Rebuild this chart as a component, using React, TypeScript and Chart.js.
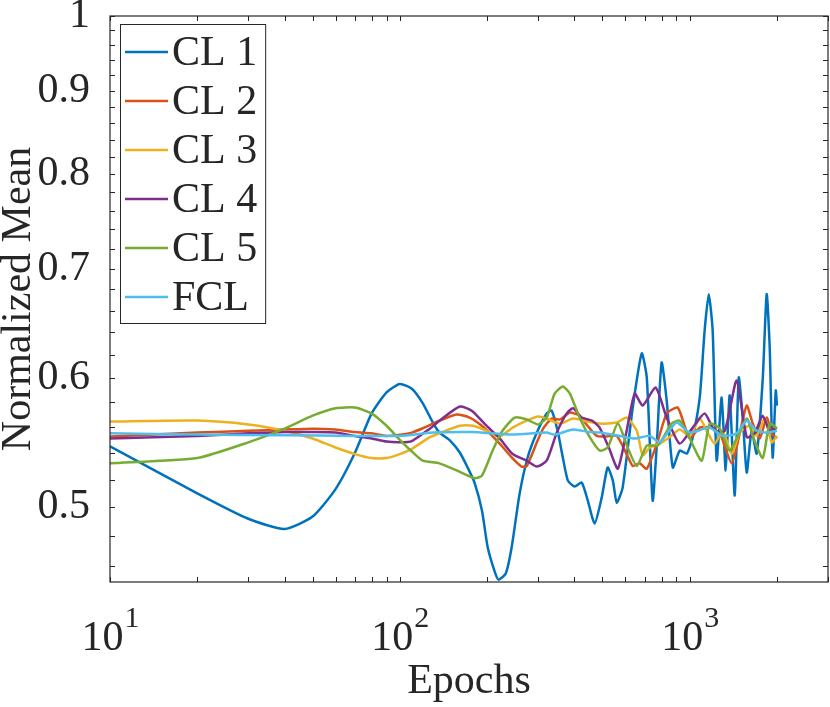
import React, { useEffect, useRef } from 'react';
import { Chart, registerables } from 'chart.js';
Chart.register(...registerables);

// epochs / normalized means
const cl1Epochs = [10, 20, 30, 40, 50, 60, 70, 80, 90, 100, 110, 120, 130, 137, 149, 161, 172, 181, 192, 201, 213, 219, 232, 243, 259, 276, 297, 321, 334, 350, 365, 380, 401, 424, 445, 470, 497, 521, 543, 560, 587, 636, 683, 711, 745, 769, 800, 833, 874, 924, 977, 1024, 1083, 1126, 1163, 1200, 1239, 1289, 1331, 1374, 1430, 1476, 1524, 1573, 1636, 1702, 1785, 1843, 1888, 1933, 1981, 2000];
const cl1Values = [0.545, 0.51, 0.492, 0.485, 0.4935, 0.513, 0.54, 0.571, 0.588, 0.595, 0.591, 0.579, 0.5635, 0.5556, 0.5494, 0.5402, 0.5281, 0.5178, 0.4977, 0.4724, 0.456, 0.4515, 0.4554, 0.4724, 0.5098, 0.5364, 0.5556, 0.5707, 0.5731, 0.5572, 0.5364, 0.5192, 0.5149, 0.5178, 0.5048, 0.4887, 0.5069, 0.5289, 0.5192, 0.5033, 0.5141, 0.5756, 0.6212, 0.6004, 0.5048, 0.544, 0.6133, 0.5813, 0.5289, 0.5417, 0.5394, 0.5517, 0.5838, 0.6418, 0.6754, 0.6418, 0.5341, 0.5838, 0.5267, 0.5855, 0.5084, 0.6004, 0.5675, 0.5251, 0.5572, 0.5394, 0.5979, 0.6754, 0.6264, 0.5364, 0.5896, 0.5772];

const cl2Epochs = [10, 20, 30, 40, 50, 60, 70, 80, 90, 100, 110, 120, 137, 157, 174, 194, 221, 245, 263, 274, 297, 312, 334, 357, 386, 417, 444, 478, 516, 560, 606, 636, 672, 711, 776, 833, 908, 948, 1000, 1083, 1172, 1270, 1396, 1488, 1573, 1650, 1744, 1843, 1918, 2000];
const cl2Values = [0.5525, 0.5556, 0.557, 0.558, 0.5587, 0.558, 0.556, 0.555, 0.553, 0.554, 0.5556, 0.559, 0.565, 0.5699, 0.5675, 0.56, 0.547, 0.5357, 0.5296, 0.53, 0.548, 0.5587, 0.5667, 0.566, 0.5715, 0.569, 0.561, 0.553, 0.5525, 0.553, 0.539, 0.53, 0.532, 0.528, 0.549, 0.5707, 0.5756, 0.565, 0.551, 0.5595, 0.5595, 0.555, 0.532, 0.555, 0.5772, 0.5627, 0.551, 0.5675, 0.555, 0.551];

const cl3Epochs = [10, 20, 30, 40, 50, 60, 70, 80, 90, 100, 110, 127, 140, 161, 179, 199, 221, 245, 274, 300, 321, 357, 396, 444, 489, 560, 606, 657, 688, 729, 788, 852, 924, 1000, 1083, 1144, 1220, 1300, 1396, 1488, 1610, 1702, 1815, 1918, 2000];
const cl3Values = [0.5643, 0.5651, 0.562, 0.557, 0.551, 0.544, 0.539, 0.536, 0.536, 0.539, 0.543, 0.552, 0.556, 0.561, 0.561, 0.557, 0.5525, 0.5595, 0.565, 0.5683, 0.5667, 0.5627, 0.5667, 0.5643, 0.5627, 0.5635, 0.5675, 0.557, 0.538, 0.544, 0.547, 0.552, 0.558, 0.553, 0.5667, 0.557, 0.547, 0.557, 0.539, 0.5556, 0.561, 0.553, 0.5667, 0.548, 0.553];

const cl4Epochs = [10, 20, 30, 40, 50, 60, 70, 80, 90, 100, 110, 127, 137, 161, 177, 199, 221, 245, 274, 297, 321, 348, 376, 396, 424, 460, 489, 528, 565, 606, 646, 688, 763, 833, 924, 1024, 1126, 1220, 1321, 1452, 1573, 1676, 1785, 1888, 2000];
const cl4Values = [0.551, 0.553, 0.555, 0.556, 0.556, 0.5556, 0.553, 0.551, 0.5486, 0.548, 0.549, 0.5587, 0.565, 0.5764, 0.573, 0.561, 0.551, 0.539, 0.534, 0.5296, 0.534, 0.5556, 0.5707, 0.575, 0.5675, 0.565, 0.5595, 0.543, 0.528, 0.557, 0.587, 0.5772, 0.592, 0.5675, 0.547, 0.5595, 0.5707, 0.557, 0.557, 0.598, 0.552, 0.555, 0.569, 0.557, 0.5595];

const cl5Epochs = [10, 20, 30, 40, 50, 60, 70, 80, 90, 100, 110, 120, 137, 157, 181, 192, 209, 226, 249, 274, 300, 321, 342, 365, 386, 417, 452, 489, 521, 565, 611, 657, 711, 776, 866, 924, 1000, 1100, 1172, 1270, 1374, 1573, 1650, 1785, 1888, 2000];
const cl5Values = [0.532, 0.536, 0.548, 0.5587, 0.569, 0.575, 0.5756, 0.5707, 0.561, 0.55, 0.541, 0.534, 0.532, 0.5267, 0.521, 0.5229, 0.5417, 0.557, 0.5675, 0.566, 0.562, 0.5675, 0.587, 0.593, 0.587, 0.5675, 0.552, 0.5417, 0.544, 0.5627, 0.544, 0.53, 0.5455, 0.5455, 0.5627, 0.565, 0.551, 0.534, 0.5627, 0.5587, 0.5417, 0.5667, 0.553, 0.536, 0.5627, 0.5587];

const fclEpochs = [10, 20, 40, 70, 100, 130, 177, 245, 321, 342, 396, 452, 489, 575, 646, 729, 788, 900, 1000, 1172, 1300, 1452, 1573, 1702, 1843, 2000];
const fclValues = [0.555, 0.554, 0.5535, 0.553, 0.553, 0.5556, 0.556, 0.554, 0.5556, 0.554, 0.558, 0.556, 0.5556, 0.553, 0.551, 0.553, 0.548, 0.5635, 0.5556, 0.5595, 0.553, 0.555, 0.565, 0.557, 0.5556, 0.557];

const seriesLabels = ['CL 1', 'CL 2', 'CL 3', 'CL 4', 'CL 5', 'FCL'];
const seriesColors = ['#0072BD', '#D95319', '#EDB120', '#7E2F8E', '#77AC30', '#4DBEEE'];
const seriesEpochs = [cl1Epochs, cl2Epochs, cl3Epochs, cl4Epochs, cl5Epochs, fclEpochs];
const seriesValues = [cl1Values, cl2Values, cl3Values, cl4Values, cl5Values, fclValues];

const xMajorTicks = [10, 100, 1000];
const xTickValues = [10, 20, 30, 40, 50, 60, 70, 80, 90, 100, 200, 300, 400, 500, 600, 700, 800, 900, 1000, 2000, 3000];
const yTickValues = [0.46, 0.48, 0.5, 0.52, 0.54, 0.56, 0.58, 0.6, 0.62, 0.64, 0.66, 0.68, 0.7, 0.72, 0.74, 0.76, 0.78, 0.8, 0.82, 0.84, 0.86, 0.88, 0.9, 0.92, 0.94, 0.96, 0.98, 1];
const yTickLabels = ['0.5', '0.6', '0.7', '0.8', '0.9', '1'];

const FONT = '"Liberation Serif", "Times New Roman", Times, serif';
const INK = '#262626';
const TICK_LEN = 5;

const matlabAxes = {
  id: 'matlabAxes',
  afterDatasetsDraw(chart: any) {
    const { ctx, chartArea: a, scales } = chart;
    const xs = scales.x;
    const ys = scales.y;
    ctx.save();
    ctx.strokeStyle = INK;
    ctx.lineWidth = 1;
    ctx.beginPath();
    xTickValues.forEach((v) => {
      const px = Math.round(xs.getPixelForValue(v)) + 0.5;
      ctx.moveTo(px, a.bottom);
      ctx.lineTo(px, a.bottom - TICK_LEN);
      ctx.moveTo(px, a.top);
      ctx.lineTo(px, a.top + TICK_LEN);
    });
    yTickValues.forEach((v) => {
      const py = Math.round(ys.getPixelForValue(v)) + 0.5;
      ctx.moveTo(a.left, py);
      ctx.lineTo(a.left + TICK_LEN, py);
      ctx.moveTo(a.right, py);
      ctx.lineTo(a.right - TICK_LEN, py);
    });
    ctx.stroke();
    ctx.lineWidth = 1.2;
    ctx.strokeRect(a.left, a.top, a.right - a.left, a.bottom - a.top);

    // x tick labels as 10^k
    ctx.fillStyle = INK;
    ctx.textAlign = 'left';
    ctx.textBaseline = 'alphabetic';
    xMajorTicks.forEach((v) => {
      const base = '10';
      const exp = String(Math.round(Math.log10(v)));
      ctx.font = `42px ${FONT}`;
      const bw = ctx.measureText(base).width;
      ctx.font = `30px ${FONT}`;
      const ew = ctx.measureText(exp).width;
      const start = xs.getPixelForValue(v) - (bw + ew) / 2;
      ctx.font = `42px ${FONT}`;
      ctx.fillText(base, start, a.bottom + 68);
      ctx.font = `30px ${FONT}`;
      ctx.fillText(exp, start + bw + 1, a.bottom + 45);
    });

    // legend box in the upper left corner
    const datasets = chart.data.datasets;
    ctx.font = `42px ${FONT}`;
    const maxW = Math.max(...datasets.map((d: any) => ctx.measureText(d.label).width));
    const bx = a.left + 10;
    const by = a.top + 8;
    const bw = 52 + maxW + 8;
    const rowH = 49;
    const bh = 28 + rowH * (datasets.length - 1) + 26;
    ctx.fillStyle = '#ffffff';
    ctx.fillRect(bx, by, bw, bh);
    ctx.strokeStyle = INK;
    ctx.lineWidth = 1;
    ctx.strokeRect(bx + 0.5, by + 0.5, bw, bh);
    ctx.textBaseline = 'middle';
    datasets.forEach((d: any, i: number) => {
      const cy = by + 28 + i * rowH;
      ctx.strokeStyle = d.borderColor;
      ctx.lineWidth = 2.5;
      ctx.beginPath();
      ctx.moveTo(bx + 5, cy);
      ctx.lineTo(bx + 48, cy);
      ctx.stroke();
      ctx.fillStyle = INK;
      ctx.fillText(d.label, bx + 52, cy + 2);
    });
    ctx.restore();
  },
};

export default function App(): React.ReactElement {
  const canvasRef = useRef<HTMLCanvasElement | null>(null);
  const chartRef = useRef<Chart | null>(null);

  useEffect(() => {
    if (!canvasRef.current) return;
    if (chartRef.current) chartRef.current.destroy();

    chartRef.current = new Chart(canvasRef.current, {
      type: 'line',
      data: {
        datasets: seriesLabels.map((label, i) => ({
          label,
          data: seriesEpochs[i].map((x, j) => ({ x, y: seriesValues[i][j] })),
          borderColor: seriesColors[i],
          backgroundColor: seriesColors[i],
          borderWidth: 2.5,
          pointRadius: 0,
          fill: false,
          tension: 0.2,
          order: seriesLabels.length - 1 - i,
        })),
      },
      options: {
        responsive: true,
        maintainAspectRatio: false,
        animation: false,
        layout: { padding: { left: 0, top: 16, right: 2, bottom: 0 } },
        plugins: {
          legend: { display: false },
          tooltip: { enabled: false },
        },
        scales: {
          x: {
            type: 'logarithmic',
            min: 10,
            max: 3000,
            grid: { display: false },
            border: { display: false },
            ticks: { display: false },
            title: {
              display: true,
              text: 'Epochs',
              color: INK,
              font: { family: FONT, size: 42, lineHeight: 1 },
              padding: { top: 0, bottom: 4 },
            },
            afterFit: (scale: any) => {
              scale.height = 125;
              scale.paddingLeft = 0;
              scale.paddingRight = 0;
            },
          },
          y: {
            type: 'logarithmic',
            min: 0.45,
            max: 1,
            grid: { display: false },
            border: { display: false },
            afterBuildTicks: (scale: any) => {
              scale.ticks = yTickValues.map((v) => ({ value: v }));
            },
            ticks: {
              color: INK,
              padding: 12,
              autoSkip: false,
              font: { family: FONT, size: 42 },
              callback: (value: any) => {
                const v = Number(value);
                const hit = yTickLabels.find((t) => Math.abs(Number(t) - v) < 1e-9);
                return hit ?? '';
              },
            },
            title: {
              display: true,
              text: 'Normalized Mean',
              color: INK,
              font: { family: FONT, size: 42, lineHeight: 0.9 },
              padding: 0,
            },
            afterFit: (scale: any) => {
              scale.width = 110;
              scale.paddingTop = 0;
              scale.paddingBottom = 0;
            },
          },
        },
      },
      plugins: [matlabAxes],
    });

    return () => {
      if (chartRef.current) {
        chartRef.current.destroy();
        chartRef.current = null;
      }
    };
  }, []);

  return (
    <div style={{ position: 'absolute', left: 0, top: 0, width: '830px', height: '707px', background: '#ffffff' }}>
      <canvas ref={canvasRef} />
    </div>
  );
}
